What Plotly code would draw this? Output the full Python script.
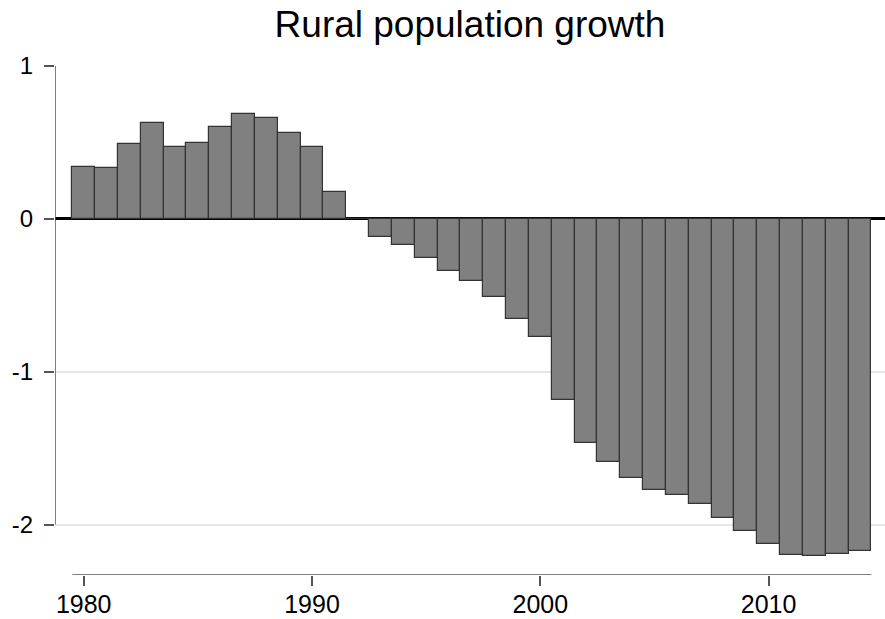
import plotly.graph_objects as go

years = list(range(1980, 2015))
growth = [0.341, 0.335, 0.487, 0.628, 0.472, 0.495, 0.598, 0.687, 0.663, 0.561,
          0.467, 0.176, 0.0, -0.117, -0.172, -0.257, -0.342, -0.405, -0.514, -0.654,
          -0.773, -1.186, -1.466, -1.588, -1.694, -1.775, -1.805, -1.866, -1.955, -2.040,
          -2.127, -2.201, -2.205, -2.192, -2.172]
y_ticks = [1, 0, -1, -2]
y_ticktext = ["1", "0", "-1", "-2"]
x_ticks = [1980, 1990, 2000, 2010]
title_text = "Rural population growth"

W, H = 885, 619
ml, mr, mt, mb = 55, 0, 66, 44
px_per_unit = 152.87
px_per_year = 22.83
y_top = 1.0
y_bot = y_top - (H - mt - mb) / px_per_unit
x_left = 1980 - (83.7 - ml) / px_per_year
x_right = 1980 + (W - mr - 83.7) / px_per_year

font_family = "Liberation Sans, Arial, sans-serif"
axis_color = "#555555"

fig = go.Figure()
fig.add_trace(go.Bar(
    x=years, y=growth, width=1.0,
    marker=dict(color="#808080", line=dict(color="#333333", width=1.2)),
    showlegend=False,
))

# axis lines spanning only the data / tick extents (Stata style)
fig.add_shape(type="line", xref="x", yref="y",
              x0=min(years) - 0.5, x1=max(years) + 0.5, y0=y_bot, y1=y_bot,
              line=dict(color=axis_color, width=1.5))
fig.add_shape(type="line", xref="x", yref="y",
              x0=x_left, x1=x_left, y0=max(y_ticks), y1=min(y_ticks),
              line=dict(color=axis_color, width=1.5))

fig.update_layout(
    width=W, height=H,
    margin=dict(l=ml, r=mr, t=mt, b=mb, pad=0),
    paper_bgcolor="white", plot_bgcolor="white",
    font=dict(family=font_family, color="black"),
    title=dict(text=title_text, x=0.5, xref="paper", xanchor="center",
               y=1 - 24 / H, yref="container", yanchor="middle",
               font=dict(size=37, family=font_family, color="black")),
    bargap=0,
)
fig.update_xaxes(
    range=[x_left, x_right], tickvals=x_ticks, ticks="outside", ticklen=10,
    tickwidth=1.5, tickcolor=axis_color, showgrid=False, zeroline=False,
    showline=False, tickfont=dict(size=25, color="black"), automargin=False,
    ticklabelstandoff=-3,
)
fig.update_yaxes(
    range=[y_bot, y_top], tickvals=y_ticks, ticktext=y_ticktext, ticks="outside",
    ticklen=10, tickwidth=1.5, tickcolor=axis_color, showgrid=True,
    gridcolor="#e6e6e6", gridwidth=1.5, zeroline=True, zerolinecolor="black",
    zerolinewidth=2.5, showline=False, tickfont=dict(size=24, color="black"),
    automargin=False, ticklabelstandoff=6,
)

fig.write_html(
    "out.html",
    config={"displayModeBar": False},
    post_script="document.body.style.margin='0';document.body.style.overflow='hidden';",
)
